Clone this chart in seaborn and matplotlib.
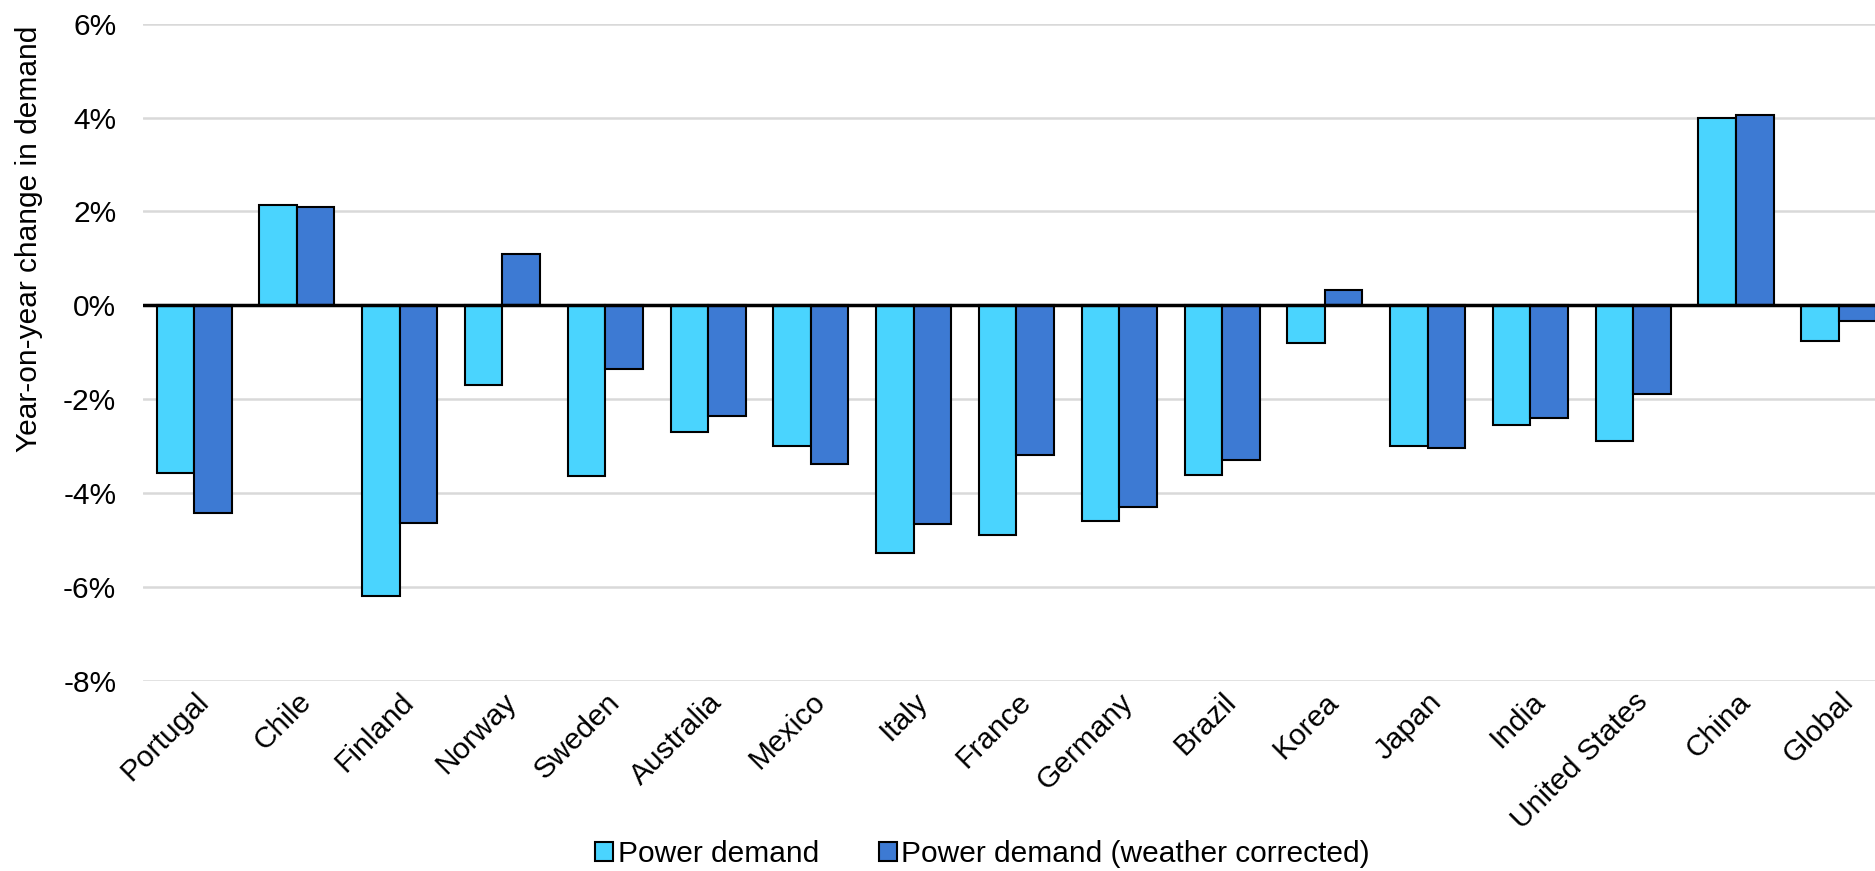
import pandas as pd
import matplotlib
matplotlib.use("Agg")
import matplotlib.pyplot as plt
import seaborn as sns
from matplotlib.ticker import FuncFormatter

countries = ["Portugal", "Chile", "Finland", "Norway", "Sweden", "Australia",
             "Mexico", "Italy", "France", "Germany", "Brazil", "Korea", "Japan",
             "India", "United States", "China", "Global"]
power_demand = [-3.57, 2.14, -6.19, -1.69, -3.64, -2.71, -3.00, -5.28, -4.89,
                -4.60, -3.61, -0.80, -3.00, -2.54, -2.90, 3.99, -0.76]
weather_corrected = [-4.42, 2.10, -4.63, 1.09, -1.35, -2.36, -3.39, -4.65, -3.20,
                     -4.30, -3.30, 0.33, -3.04, -2.41, -1.88, 4.05, -0.34]
series_names = ["Power demand", "Power demand (weather corrected)"]
colors = ["#4AD4FE", "#3D7AD3"]

df = pd.DataFrame({
    "country": countries * 2,
    "value": power_demand + weather_corrected,
    "series": [series_names[0]] * len(countries) + [series_names[1]] * len(countries),
})

sns.set_style("white")
plt.rcParams["font.family"] = ["Liberation Sans", "DejaVu Sans"]
plt.rcParams["text.color"] = "black"
plt.rcParams["xtick.color"] = "black"
plt.rcParams["ytick.color"] = "black"

fig = plt.figure(figsize=(18.75, 8.71), dpi=100)
ax = fig.add_axes([0.0761, 0.2184, 0.932, 0.7544])

sns.barplot(data=df, x="country", y="value", hue="series", palette=colors,
            saturation=1, width=0.73, edgecolor="black", linewidth=1.5, ax=ax)

ax.set_ylim(-8, 6)
ax.set_xlim(-0.5, len(countries) - 0.5)
ax.set_yticks(range(-8, 7, 2))
ax.yaxis.set_major_formatter(FuncFormatter(lambda v, p: f"{v:.0f}%"))
ax.yaxis.grid(True, color="#D9D9D9", linewidth=1.8)
ax.set_axisbelow(True)
ax.axhline(0, color="black", linewidth=2.5, zorder=3)

for s in ax.spines.values():
    s.set_visible(False)

ax.tick_params(axis="y", length=0, pad=19, labelsize=21.5, labelcolor="black")
ax.tick_params(axis="x", length=0, pad=5, labelsize=21.5, labelcolor="black")
plt.setp(ax.get_xticklabels(), rotation=45, ha="right", rotation_mode="anchor")
ax.set_xlabel("")
ax.set_ylabel("")

fig.text(29.5 / 1875, 1 - 239 / 871, "Year-on-year change in demand",
         rotation=90, ha="center", va="center", fontsize=21.5, color="black")

handles, labels = ax.get_legend_handles_labels()
ax.get_legend().remove()
fig.legend(handles, labels, loc="center", bbox_to_anchor=(0.524, 0.02), ncol=2,
           frameon=False, fontsize=21.5, handlelength=0.6, handleheight=0.6,
           handletextpad=0.15, columnspacing=2.0, labelcolor="black")

fig.savefig("out.png", dpi=100)
